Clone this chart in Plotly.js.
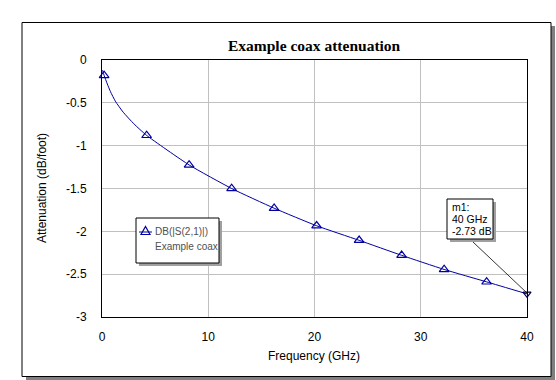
<!DOCTYPE html>
<html>
<head>
<meta charset="utf-8">
<script src="https://cdn.plot.ly/plotly-3.0.1.min.js"></script>
<style>html,body{margin:0;padding:0;background:#fff;}#chart{width:556px;height:380px;}</style>
</head>
<body>
<div id="chart"></div>
<script>
// Curve
const freqLine = [0.05, 0.2, 0.5, 0.8, 1.25, 2.0, 3.0, 4.2, 8.2, 12.2, 16.2, 20.2, 24.2, 28.2, 32.2, 36.2, 40];
const attLine  = [-0.12, -0.18, -0.28, -0.37, -0.48, -0.61, -0.745, -0.88, -1.225, -1.50, -1.73, -1.935, -2.105, -2.28, -2.445, -2.59, -2.73];
// Triangle markers
const freqMarks = [0.2, 4.2, 8.2, 12.2, 16.2, 20.2, 24.2, 28.2, 32.2, 36.2];
const attMarks  = [-0.18, -0.88, -1.225, -1.50, -1.73, -1.935, -2.105, -2.28, -2.445, -2.59];
// Marker m1
const m1Freq = [40];
const m1Att = [-2.73];
const m1Lines = ["m1:", "40 GHz", "-2.73 dB"];
const legendLines = ["DB(|S(2,1)|)", "Example coax"];
const xTicks = [0, 10, 20, 30, 40];
const yTicks = [0, -0.5, -1, -1.5, -2, -2.5, -3];

const L = 102, T = 60, W = 425, H = 257;
const X = px => (px - L) / W;
const Y = py => (T + H - py) / H;

const lineColor = '#0000a0';

const traces = [
  {x: freqLine, y: attLine, mode: 'lines', line: {color: lineColor, width: 1, shape: 'spline', smoothing: 0.5}, hoverinfo: 'skip', showlegend: false},
  {x: freqMarks, y: attMarks, mode: 'markers', marker: {symbol: 'triangle-up-open', size: 8.5, color: lineColor, line: {width: 1.2, color: lineColor}}, showlegend: false, cliponaxis: false},
  {x: m1Freq, y: m1Att, mode: 'markers', marker: {symbol: 'triangle-down-open', size: 7, color: '#000040', line: {width: 1.2}}, showlegend: false, cliponaxis: false}
];

const shapes = [
  // outer frame shadow + frame
  {type: 'rect', xref: 'paper', yref: 'paper', x0: X(26), x1: X(555), y0: Y(26), y1: Y(380), fillcolor: '#808080', line: {width: 0}, layer: 'below'},
  {type: 'rect', xref: 'paper', yref: 'paper', x0: X(22), x1: X(551), y0: Y(22.5), y1: Y(376.5), fillcolor: '#ffffff', line: {width: 1, color: '#000'}, layer: 'below'},
  // legend box
  {type: 'rect', xref: 'paper', yref: 'paper', x0: X(139), x1: X(222), y0: Y(221), y1: Y(266), fillcolor: '#a0a0a0', line: {width: 0}},
  {type: 'rect', xref: 'paper', yref: 'paper', x0: X(136), x1: X(219), y0: Y(218), y1: Y(263), fillcolor: '#ffffff', line: {width: 1, color: '#000'}},
  {type: 'line', xref: 'paper', yref: 'paper', x0: X(139), x1: X(152), y0: Y(232), y1: Y(232), line: {width: 1, color: lineColor}},
  {type: 'path', xref: 'paper', yref: 'paper', xsizemode: 'pixel', ysizemode: 'pixel', xanchor: X(145.5), yanchor: Y(231), path: 'M -4.5 -3.5 L 4.5 -3.5 L 0 4.5 Z', line: {width: 1.2, color: lineColor}, fillcolor: 'rgba(0,0,0,0)'},
  // m1 box
  {type: 'rect', xref: 'paper', yref: 'paper', x0: X(450), x1: X(496), y0: Y(202), y1: Y(242), fillcolor: '#a0a0a0', line: {width: 0}},
  {type: 'rect', xref: 'paper', yref: 'paper', x0: X(447), x1: X(493), y0: Y(199), y1: Y(239), fillcolor: '#ffffff', line: {width: 1, color: '#000'}},
  {type: 'line', xref: 'paper', yref: 'paper', x0: X(473), x1: X(527), y0: Y(242), y1: Y(293), line: {width: 0.8, color: '#000'}}
];

const annotations = [
  {text: '<b>Example coax attenuation</b>', xref: 'paper', yref: 'paper', x: X(314), y: Y(46), xanchor: 'center', yanchor: 'middle', showarrow: false, font: {family: 'Liberation Serif, Times New Roman, serif', size: 15.5, color: '#000'}},
  {text: 'Frequency (GHz)', xref: 'paper', yref: 'paper', x: X(314), y: Y(356), xanchor: 'center', yanchor: 'middle', showarrow: false, font: {family: 'Liberation Sans, Arial, sans-serif', size: 12, color: '#000'}},
  {text: 'Attenuation (dB/foot)', xref: 'paper', yref: 'paper', x: X(42), y: Y(188), xanchor: 'center', yanchor: 'middle', textangle: -90, showarrow: false, font: {family: 'Liberation Sans, Arial, sans-serif', size: 12, color: '#000'}},
  {text: legendLines[0], xref: 'paper', yref: 'paper', x: X(153), y: Y(231), xanchor: 'left', yanchor: 'middle', showarrow: false, font: {family: 'Liberation Sans, Arial, sans-serif', size: 10, color: '#505050'}},
  {text: legendLines[1], xref: 'paper', yref: 'paper', x: X(153), y: Y(246), xanchor: 'left', yanchor: 'middle', showarrow: false, font: {family: 'Liberation Sans, Arial, sans-serif', size: 10, color: '#505050'}}
];
m1Lines.forEach((t, i) => annotations.push({text: t, xref: 'paper', yref: 'paper', x: X(450), y: Y(207 + 12 * i), xanchor: 'left', yanchor: 'middle', showarrow: false, font: {family: 'Liberation Sans, Arial, sans-serif', size: 10.5, color: '#000'}}));

const layout = {
  width: 556, height: 380,
  margin: {l: L, r: 556 - L - W, t: T, b: 380 - T - H, pad: 0},
  paper_bgcolor: '#ffffff', plot_bgcolor: 'rgba(0,0,0,0)',
  showlegend: false,
  xaxis: {range: [0, 40], tickvals: xTicks, ticktext: xTicks.map(String), showgrid: true, gridcolor: '#c0c0c0', gridwidth: 1, zeroline: false, showline: true, linecolor: '#000', linewidth: 1, mirror: true, ticks: '', ticklabelstandoff: 9, tickfont: {family: 'Liberation Sans, Arial, sans-serif', size: 12, color: '#000'}, fixedrange: true},
  yaxis: {range: [-3, 0], tickvals: yTicks, ticktext: yTicks.map(String), showgrid: true, gridcolor: '#c0c0c0', gridwidth: 1, zeroline: false, showline: true, linecolor: '#000', linewidth: 1, mirror: true, ticks: '', ticklabelstandoff: 12, tickfont: {family: 'Liberation Sans, Arial, sans-serif', size: 12, color: '#000'}, fixedrange: true},
  shapes: shapes,
  annotations: annotations
};

Plotly.newPlot('chart', traces, layout, {displayModeBar: false, staticPlot: true});
</script>
</body>
</html>
